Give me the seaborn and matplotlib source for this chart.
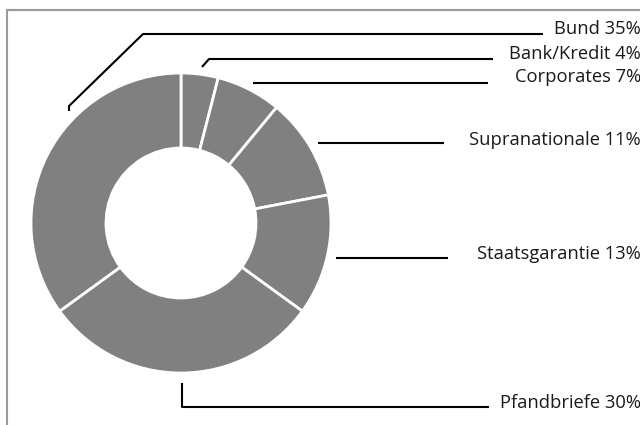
import numpy as np
import pandas as pd
import matplotlib.pyplot as plt
import seaborn as sns

# verteilung der anlagen (im uhrzeigersinn ab 12 uhr)
kategorien = ['Bank/Kredit', 'Corporates', 'Supranationale', 'Staatsgarantie', 'Pfandbriefe', 'Bund']
anteile = [4, 7, 11, 13, 30, 35]

# beschriftungen rechts, in der reihenfolge von oben nach unten
label_reihenfolge = ['Bund', 'Bank/Kredit', 'Corporates', 'Supranationale', 'Staatsgarantie', 'Pfandbriefe']

df = pd.DataFrame({'kategorie': kategorien, 'anteil': anteile})

sns.set_theme(style='white')
plt.rcParams['font.family'] = ['Open Sans', 'DejaVu Sans']

W, H = 640, 425
fig = plt.figure(figsize=(6.4, 4.25), dpi=100)
ax = fig.add_axes([0, 0, 1, 1])
ax.set_xlim(0, W)
ax.set_ylim(0, H)
ax.set_aspect('equal')
ax.axis('off')

def py(y):
    # pixel-y von oben nach data-y umrechnen
    return H - y

# rahmen (nur links und oben sichtbar)
ax.plot([7, 7], [py(10), py(425)], color='#9a9a9a', lw=1.5)
ax.plot([7, 640], [py(10), py(10)], color='#9a9a9a', lw=1.5)

# donut
cx, cy, r = 181, py(223), 150
ax.pie(df['anteil'], center=(cx, cy), radius=r, startangle=90, counterclock=False,
       colors=['#808080'] * len(df),
       wedgeprops=dict(width=r * 0.5, edgecolor='white', linewidth=2))
ax.set_xlim(0, W)
ax.set_ylim(0, H)

# fuehrungslinien (pixelkoordinaten der leitlinien)
linien = {
    'Bund': [(69, 111), (69, 106), (143, 34), (543, 34)],
    'Bank/Kredit': [(202, 67), (209, 59), (493, 59)],
    'Corporates': [(253, 83), (488, 83)],
    'Supranationale': [(318, 143), (444, 143)],
    'Staatsgarantie': [(336, 258), (448, 258)],
    'Pfandbriefe': [(182, 383), (182, 407), (489, 407)],
}
text_y = {'Bund': 29, 'Bank/Kredit': 54, 'Corporates': 77, 'Supranationale': 140,
          'Staatsgarantie': 254, 'Pfandbriefe': 403}

werte = dict(zip(kategorien, anteile))
for name in label_reihenfolge:
    pts = linien[name]
    xs = [p[0] for p in pts]
    ys = [py(p[1]) for p in pts]
    ax.plot(xs, ys, color='black', lw=1.5, solid_capstyle='butt')
    ax.text(641, py(text_y[name]), f'{name} {werte[name]}%', ha='right', va='center',
            fontsize=13.2, color='#1a1a1a')

plt.savefig('out.png', dpi=100)
plt.close()
